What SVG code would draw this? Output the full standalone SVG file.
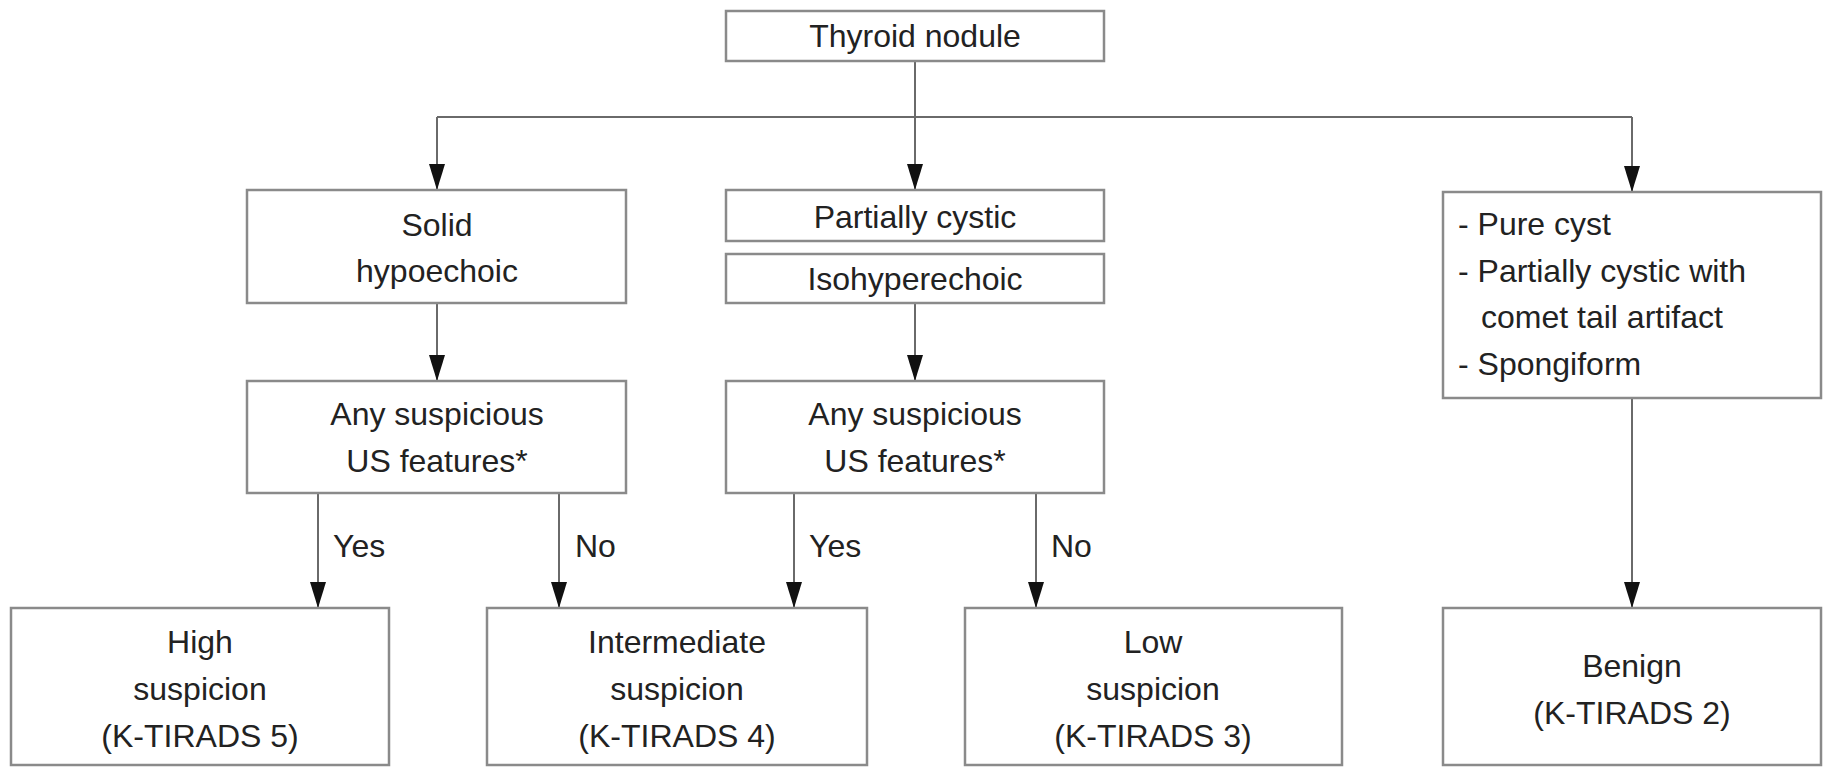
<svg xmlns="http://www.w3.org/2000/svg" width="1827" height="767" viewBox="0 0 1827 767">
<style>
.box{fill:#fff;stroke:#8a8a8a;stroke-width:2.5}
.ln{fill:none;stroke:#6a6a6a;stroke-width:2}
text{font-family:"Liberation Sans",Arial,sans-serif;font-size:32px;fill:#222}
.c{text-anchor:middle}
</style>
<defs>
<marker id="ah" markerUnits="userSpaceOnUse" markerWidth="26" markerHeight="16" viewBox="0 0 26 16" refX="25" refY="8" orient="auto">
<path d="M0,0 L26,8 L0,16 Z" fill="#111"/>
</marker>
</defs>
<rect width="1827" height="767" fill="#fff"/>
<g id="connectors">
<path class="ln" d="M915,61 V189" marker-end="url(#ah)"/>
<path class="ln" d="M437,117 H1632"/>
<path class="ln" d="M437,117 V189" marker-end="url(#ah)"/>
<path class="ln" d="M1632,117 V191" marker-end="url(#ah)"/>
<path class="ln" d="M437,303 V380" marker-end="url(#ah)"/>
<path class="ln" d="M915,303 V380" marker-end="url(#ah)"/>
<path class="ln" d="M318,493 V607" marker-end="url(#ah)"/>
<path class="ln" d="M559,493 V607" marker-end="url(#ah)"/>
<path class="ln" d="M794,493 V607" marker-end="url(#ah)"/>
<path class="ln" d="M1036,493 V607" marker-end="url(#ah)"/>
<path class="ln" d="M1632,398 V607" marker-end="url(#ah)"/>
<text x="333" y="557">Yes</text>
<text x="575" y="557">No</text>
<text x="809" y="557">Yes</text>
<text x="1051" y="557">No</text>
</g>
<g id="thyroid">
<rect class="box" x="726" y="11" width="378" height="50"/>
<text class="c" x="915" y="47">Thyroid nodule</text>
</g>
<g id="solid">
<rect class="box" x="247" y="190" width="379" height="113"/>
<text class="c" x="437" y="236">Solid</text>
<text class="c" x="437" y="282">hypoechoic</text>
</g>
<g id="partially-cystic">
<rect class="box" x="726" y="190" width="378" height="51"/>
<text class="c" x="915" y="228">Partially cystic</text>
</g>
<g id="isohyperechoic">
<rect class="box" x="726" y="254" width="378" height="49"/>
<text class="c" x="915" y="290">Isohyperechoic</text>
</g>
<g id="benign-features">
<rect class="box" x="1443" y="192" width="378" height="206"/>
<text x="1458" y="235">- Pure cyst</text>
<text x="1458" y="282">- Partially cystic with</text>
<text x="1481" y="328">comet tail artifact</text>
<text x="1458" y="375">- Spongiform</text>
</g>
<g id="any-suspicious-1">
<rect class="box" x="247" y="381" width="379" height="112"/>
<text class="c" x="437" y="425">Any suspicious</text>
<text class="c" x="437" y="472">US features*</text>
</g>
<g id="any-suspicious-2">
<rect class="box" x="726" y="381" width="378" height="112"/>
<text class="c" x="915" y="425">Any suspicious</text>
<text class="c" x="915" y="472">US features*</text>
</g>
<g id="high">
<rect class="box" x="11" y="608" width="378" height="157"/>
<text class="c" x="200" y="653">High</text>
<text class="c" x="200" y="700">suspicion</text>
<text class="c" x="200" y="747">(K-TIRADS 5)</text>
</g>
<g id="intermediate">
<rect class="box" x="487" y="608" width="380" height="157"/>
<text class="c" x="677" y="653">Intermediate</text>
<text class="c" x="677" y="700">suspicion</text>
<text class="c" x="677" y="747">(K-TIRADS 4)</text>
</g>
<g id="low">
<rect class="box" x="965" y="608" width="377" height="157"/>
<text class="c" x="1153" y="653">Low</text>
<text class="c" x="1153" y="700">suspicion</text>
<text class="c" x="1153" y="747">(K-TIRADS 3)</text>
</g>
<g id="benign">
<rect class="box" x="1443" y="608" width="378" height="157"/>
<text class="c" x="1632" y="677">Benign</text>
<text class="c" x="1632" y="724">(K-TIRADS 2)</text>
</g>
</svg>
